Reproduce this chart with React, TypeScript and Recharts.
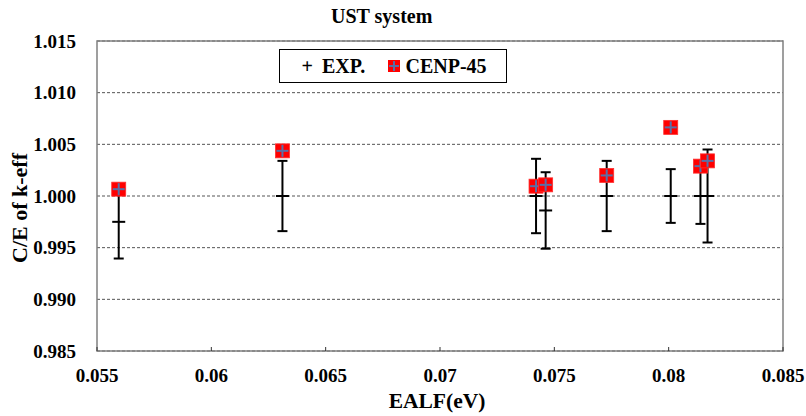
import React from 'react';
import { ScatterChart, Scatter, XAxis, YAxis, CartesianGrid, ErrorBar, ReferenceArea, Label } from 'recharts';

// EALF (eV) of each UST benchmark case
const ealf = [0.05595, 0.06311, 0.0742, 0.07462, 0.07729, 0.08009, 0.08139, 0.0817];
// experiment (normalised) and its uncertainty
const expValues = [0.9975, 1.0, 1.0, 0.9986, 1.0, 1.0, 1.0, 1.0];
const expErrors = [0.00355, 0.0034, 0.0036, 0.0037, 0.0034, 0.0026, 0.0027, 0.0045];
// CENP-45 C/E
const cenpValues = [1.00066, 1.00437, 1.00095, 1.00108, 1.00199, 1.00664, 1.00289, 1.0034];

const xTicks = [0.055, 0.06, 0.065, 0.07, 0.075, 0.08, 0.085];
const yTicks = [0.985, 0.99, 0.995, 1.0, 1.005, 1.01, 1.015];

const expData = ealf.map((x, i) => ({ x, y: expValues[i], err: expErrors[i] }));
const cenpData = ealf.map((x, i) => ({ x, y: cenpValues[i] }));

const FONT = 'Liberation Serif, DejaVu Serif, serif';
const tickStyle = { fontFamily: FONT, fontWeight: 700, fontSize: 19, fill: '#000' };

const DashShape = ({ cx, cy }: any) => (
  <line x1={cx - 6.5} x2={cx + 6.5} y1={cy} y2={cy} stroke="#000" strokeWidth={2} />
);

const CenpShape = ({ cx, cy }: any) => (
  <g>
    <rect x={cx - 7} y={cy - 7} width={14} height={14} fill="#FF0000" stroke="#FF3030" strokeWidth={0.8} />
    <line x1={cx - 6} x2={cx + 6} y1={cy} y2={cy} stroke="#5A6FA6" strokeWidth={2} />
    <line x1={cx} x2={cx} y1={cy - 6} y2={cy + 6} stroke="#5A6FA6" strokeWidth={2} />
  </g>
);

const legendText: React.CSSProperties = {
  position: 'absolute',
  fontFamily: FONT,
  fontWeight: 700,
  fontSize: 20,
  lineHeight: '20px',
  top: 5.5,
  whiteSpace: 'nowrap',
};

export default function App() {
  return (
    <div style={{ position: 'relative', width: 806, height: 416, background: '#fff' }}>
      <style>{'body{margin:0}'}</style>
      <div
        style={{
          position: 'absolute', left: 281.7, top: 6.3, width: 200, textAlign: 'center',
          fontFamily: FONT, fontWeight: 700, fontSize: 20, lineHeight: '20px', zIndex: 2,
        }}
      >
        UST system
      </div>
      <ScatterChart width={806} height={416} margin={{ top: 41, right: 23, bottom: 0, left: 0 }}>
        <CartesianGrid horizontal vertical={false} stroke="#555" strokeDasharray="3 2" />
        <XAxis
          dataKey="x"
          type="number"
          domain={[0.055, 0.085]}
          ticks={xTicks}
          tickFormatter={(v: number) => String(v)}
          height={65}
          axisLine={false}
          tickLine={{ stroke: '#333' }}
          tickSize={-4}
          tickMargin={21.5}
          tick={tickStyle}
          interval={0}
        >
          <Label
            value="EALF(eV)"
            position="insideBottom"
            offset={8}
            dx={-3}
            style={{ fontFamily: FONT, fontWeight: 700, fontSize: 21.5, fill: '#000' }}
          />
        </XAxis>
        <YAxis
          dataKey="y"
          type="number"
          domain={[0.985, 1.015]}
          ticks={yTicks}
          tickFormatter={(v: number) => v.toFixed(3)}
          width={97}
          axisLine={false}
          tickLine={false}
          tickSize={0}
          tickMargin={21}
          tick={tickStyle}
          interval={0}
        >
          <Label
            content={() => (
              <text
                x={27}
                y={208}
                transform="rotate(-90 27 208)"
                textAnchor="middle"
                fontFamily={FONT}
                fontWeight={700}
                fontSize={22}
                fill="#000"
              >
                C/E of k-eff
              </text>
            )}
          />
        </YAxis>
        <ReferenceArea
          x1={0.055}
          x2={0.085}
          y1={0.985}
          y2={1.015}
          fill="none"
          fillOpacity={0}
          stroke="#808080"
          strokeWidth={1.5}
          ifOverflow="visible"
        />
        <Scatter name="EXP." data={expData} shape={(p: any) => <DashShape {...p} />} isAnimationActive={false}>
          <ErrorBar dataKey="err" direction="y" width={5} strokeWidth={2} stroke="#000" isAnimationActive={false} />
        </Scatter>
        <Scatter name="CENP-45" data={cenpData} shape={(p: any) => <CenpShape {...p} />} isAnimationActive={false} />
      </ScatterChart>
      {/* Legend */}
      <div
        style={{
          position: 'absolute', left: 279, top: 49, width: 228, height: 34,
          boxSizing: 'border-box', border: '1.5px solid #000', background: '#fff',
        }}
      >
        <span style={{ ...legendText, left: 21.5 }}>+</span>
        <span style={{ ...legendText, left: 42 }}>EXP.</span>
        <svg style={{ position: 'absolute', left: 107.5, top: 9.8 }} width={12} height={12}>
          <rect x={0} y={0} width={12} height={12} fill="#FF0000" />
          <line x1={1} x2={11} y1={6} y2={6} stroke="#5A6FA6" strokeWidth={2} />
          <line x1={6} x2={6} y1={1} y2={11} stroke="#5A6FA6" strokeWidth={2} />
        </svg>
        <span style={{ ...legendText, left: 125.5 }}>CENP-45</span>
      </div>
    </div>
  );
}
